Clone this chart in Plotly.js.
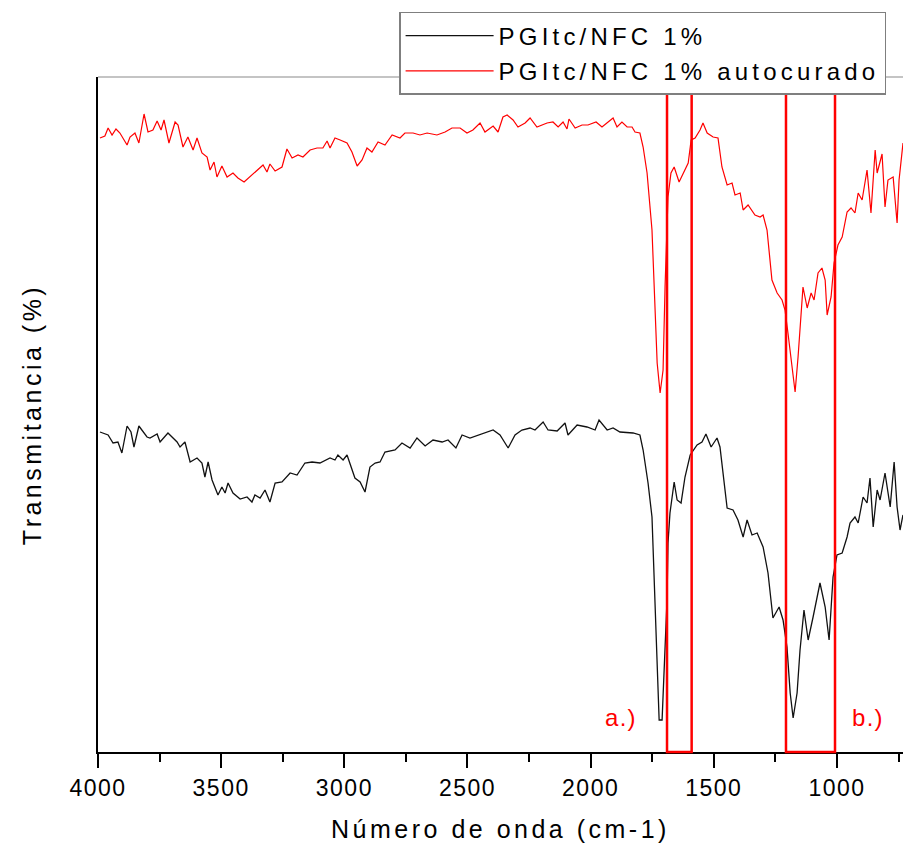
<!DOCTYPE html>
<html>
<head>
<meta charset="utf-8">
<script src="https://cdn.plot.ly/plotly-3.0.1.min.js"></script>
<style>
  html, body { margin: 0; padding: 0; background: #fff; }
  #chart { width: 903px; height: 853px; }
  .legendtext { letter-spacing: 4.2px; }
  .xtitle, .ytitle { letter-spacing: 3.5px; }
  .xtick text { letter-spacing: 1.5px; }
  .annotation-text { letter-spacing: 1.3px; }
</style>
</head>
<body>
<div id="chart"></div>
<script>
// ---- data (wavenumber cm-1, transmittance arb. %) ----
const seriesNames = ['PGItc/NFC 1%', 'PGItc/NFC 1% autocurado'];

const wnBlack = [3992,3959,3939,3919,3903,3882,3866,3854,3834,3817,3801,3789,3760,3748,3716,3679,3667,3647,3626,3598,
  3578,3566,3553,3537,3513,3497,3484,3472,3452,3423,3395,3375,3363,3342,3322,3302,3281,3253,3220,3192,
  3160,3131,3099,3058,3038,3026,3005,2989,2957,2936,2916,2896,2875,2855,2835,2794,2766,2733,2705,2672,
  2640,2603,2579,2547,2522,2490,2457,2429,2396,2368,2335,2307,2279,2246,2226,2193,2173,2136,2104,2092,
  2055,2015,1982,1966,1933,1909,1881,1828,1800,1787,1767,1751,1739,1730,1722,1710,1702,1690,1686,1678,
  1661,1649,1633,1617,1596,1568,1548,1532,1511,1487,1475,1463,1446,1422,1402,1381,1365,1345,1324,1300,
  1280,1260,1235,1219,1203,1190,1178,1162,1150,1134,1117,1097,1069,1048,1032,1016,1000,979,959,947,
  927,914,894,878,866,853,837,825,805,784,768,756,744,732];
const tBlack = [64.0,63.4,61.8,62.0,59.8,65.2,64.0,61.0,65.2,64.0,63.0,62.8,63.6,62.0,63.8,62.0,61.0,62.0,58.0,58.8,
  57.8,55.0,58.0,54.4,51.4,53.0,51.8,53.8,51.8,50.6,51.0,50.0,51.4,50.8,52.4,50.0,53.8,54.0,55.8,55.4,
  57.8,58.0,57.8,58.8,58.4,59.4,58.4,59.4,54.8,54.0,52.0,57.0,57.8,58.0,60.0,60.4,61.8,60.8,62.8,61.2,
  62.4,62.0,62.4,60.8,63.4,62.8,63.4,63.8,64.4,63.4,60.8,63.4,64.4,64.8,64.4,66.0,64.4,64.2,65.8,63.4,
  65.4,65.0,64.4,66.4,64.4,64.8,64.0,63.8,63.4,60.4,53.8,47.0,30.4,17.0,6.4,6.4,17.0,30.4,41.8,47.8,
  54.0,50.4,49.8,55.0,59.4,61.4,62.0,63.6,61.0,62.8,61.0,55.8,48.8,48.4,46.4,43.0,46.4,43.4,43.8,41.0,
  35.8,26.8,29.0,26.4,21.0,11.8,6.8,11.8,20.4,28.4,22.4,27.0,33.8,29.0,22.4,35.0,39.4,39.8,43.0,45.8,
  47.0,45.8,51.0,49.8,54.8,45.0,52.4,50.4,55.8,49.0,58.0,49.0,44.4,47.4];

const wnRed = [3992,3972,3959,3943,3927,3911,3882,3870,3850,3834,3813,3797,3777,3760,3744,3732,3712,3687,3675,3655,
  3635,3614,3598,3578,3557,3545,3529,3517,3497,3476,3452,3432,3407,3383,3354,3330,3314,3302,3281,3253,
  3233,3212,3188,3168,3139,3111,3087,3070,3058,3038,3017,2989,2969,2948,2928,2908,2888,2863,2835,2806,
  2774,2754,2721,2693,2664,2624,2591,2563,2530,2502,2478,2449,2429,2396,2376,2356,2339,2315,2295,2266,
  2246,2218,2177,2153,2132,2112,2096,2088,2063,2035,2011,1978,1954,1933,1909,1893,1873,1852,1832,1820,
  1800,1787,1771,1751,1739,1730,1718,1706,1698,1686,1674,1661,1641,1617,1604,1592,1576,1556,1544,1527,
  1503,1483,1467,1446,1426,1414,1393,1381,1361,1333,1312,1300,1284,1264,1243,1223,1211,1199,1182,1170,
  1158,1138,1121,1105,1093,1077,1061,1048,1040,1024,1012,996,979,959,943,927,914,898,878,862,
  845,837,817,805,793,772,756,748,732];
const tRed = [122.8,123.2,124.8,123.4,124.6,123.8,121.4,123.0,123.8,121.8,127.6,124.0,124.4,126.2,124.4,126.4,121.8,126.0,125.4,121.0,
  123.0,120.4,122.8,119.8,119.0,116.4,118.0,115.0,117.2,115.0,115.8,114.8,114.0,115.0,116.4,117.4,116.0,117.6,116.2,117.0,
  120.6,118.8,119.4,119.0,120.4,120.8,120.8,122.2,120.8,122.8,122.4,121.8,120.0,117.2,118.4,120.8,120.0,122.0,121.4,123.4,
  122.8,123.8,123.8,123.4,123.8,123.4,124.0,124.8,124.8,123.8,124.4,125.8,124.0,125.2,124.0,127.0,127.4,126.4,125.0,125.8,
  126.8,125.0,125.8,126.0,125.0,126.0,124.6,126.6,124.8,125.4,125.4,126.0,125.0,125.8,126.8,125.0,126.0,125.0,125.0,124.0,
  123.8,121.0,115.8,104.4,91.0,77.8,71.8,76.4,93.0,111.0,115.8,117.0,114.0,116.4,117.8,122.4,122.8,124.4,125.8,123.8,
  123.0,122.8,117.0,113.4,113.8,111.4,111.8,108.4,109.4,107.4,107.0,107.4,104.4,94.4,91.8,90.4,88.4,83.8,77.0,72.0,
  79.0,93.0,88.8,91.8,90.4,95.8,96.8,94.4,87.4,91.0,97.8,101.4,103.0,108.0,108.8,107.8,111.8,110.4,116.4,107.8,
  120.4,115.8,119.6,109.0,114.4,115.0,105.8,114.4,121.8];

// highlighted regions (cm-1) and their labels
const regionStart = [1690, 1207];
const regionEnd   = [1590, 1008];
const regionLabels = ['a.)', 'b.)'];
const regionLabelX = [1877, 874];

const xTitle = 'Número de onda (cm-1)';
const yTitle = 'Transmitancia (%)';

// ---- figure ----
const FONT = '"Liberation Sans", Arial, Helvetica, sans-serif';

const traces = [
  { x: wnBlack, y: tBlack, name: seriesNames[0], type: 'scatter', mode: 'lines',
    line: { color: '#111111', width: 1.3 }, legendgroup: 'g1' },
  { x: wnRed, y: tRed, name: seriesNames[1], type: 'scatter', mode: 'lines',
    line: { color: '#ff0000', width: 1.2 }, legendgroup: 'g2' }
];

const shapes = [
  { type: 'line', xref: 'paper', yref: 'paper', x0: 0, x1: 1, y0: 1, y1: 1,
    line: { color: '#8a8a8a', width: 1.2 }, layer: 'below' }
];
for (let i = 0; i < regionStart.length; i++) {
  shapes.push({ type: 'rect', xref: 'x', yref: 'paper', x0: regionStart[i], x1: regionEnd[i],
    y0: 0, y1: 0.978, line: { color: '#ff0000', width: 2.5 }, fillcolor: 'rgba(0,0,0,0)', layer: 'above' });
}

const annotations = regionLabels.map((t, i) => ({
  text: t, x: regionLabelX[i], y: 7, xref: 'x', yref: 'y', showarrow: false,
  font: { family: FONT, size: 24, color: '#ff0000' }, xanchor: 'center', yanchor: 'middle'
}));

const layout = {
  width: 903, height: 853,
  margin: { l: 98, r: 0, t: 77, b: 101, pad: 0 },
  paper_bgcolor: '#ffffff', plot_bgcolor: '#ffffff',
  font: { family: FONT, color: '#000000' },
  showlegend: true,
  legend: {
    x: 0.979, xanchor: 'right', y: 1.0963, yanchor: 'top',
    bgcolor: '#ffffff', bordercolor: '#7f7f7f', borderwidth: 1.5,
    font: { family: FONT, size: 24, color: '#000000' },
    itemwidth: 88, tracegroupgap: 1
  },
  xaxis: {
    range: [4000, 732], dtick: 500, tick0: 0,
    showgrid: false, zeroline: false,
    showline: true, linecolor: '#000000', linewidth: 2,
    ticks: 'outside', ticklen: 14, tickwidth: 2, tickcolor: '#000000',
    minor: { ticks: 'outside', ticklen: 8, tickwidth: 2, tickcolor: '#000000', dtick: 250, tick0: 0, showgrid: false },
    tickfont: { family: FONT, size: 23, color: '#000000' },
    ticklabelstandoff: 0,
    title: { text: xTitle, font: { family: FONT, size: 25, color: '#000000' }, standoff: 21 }
  },
  yaxis: {
    range: [0, 135], showgrid: false, zeroline: false,
    showline: true, linecolor: '#000000', linewidth: 2,
    ticks: '', showticklabels: false,
    title: { text: yTitle, font: { family: FONT, size: 25, color: '#000000' }, standoff: 47 }
  },
  shapes: shapes,
  annotations: annotations
};

Plotly.newPlot('chart', traces, layout, { staticPlot: true, displayModeBar: false });
</script>
</body>
</html>
